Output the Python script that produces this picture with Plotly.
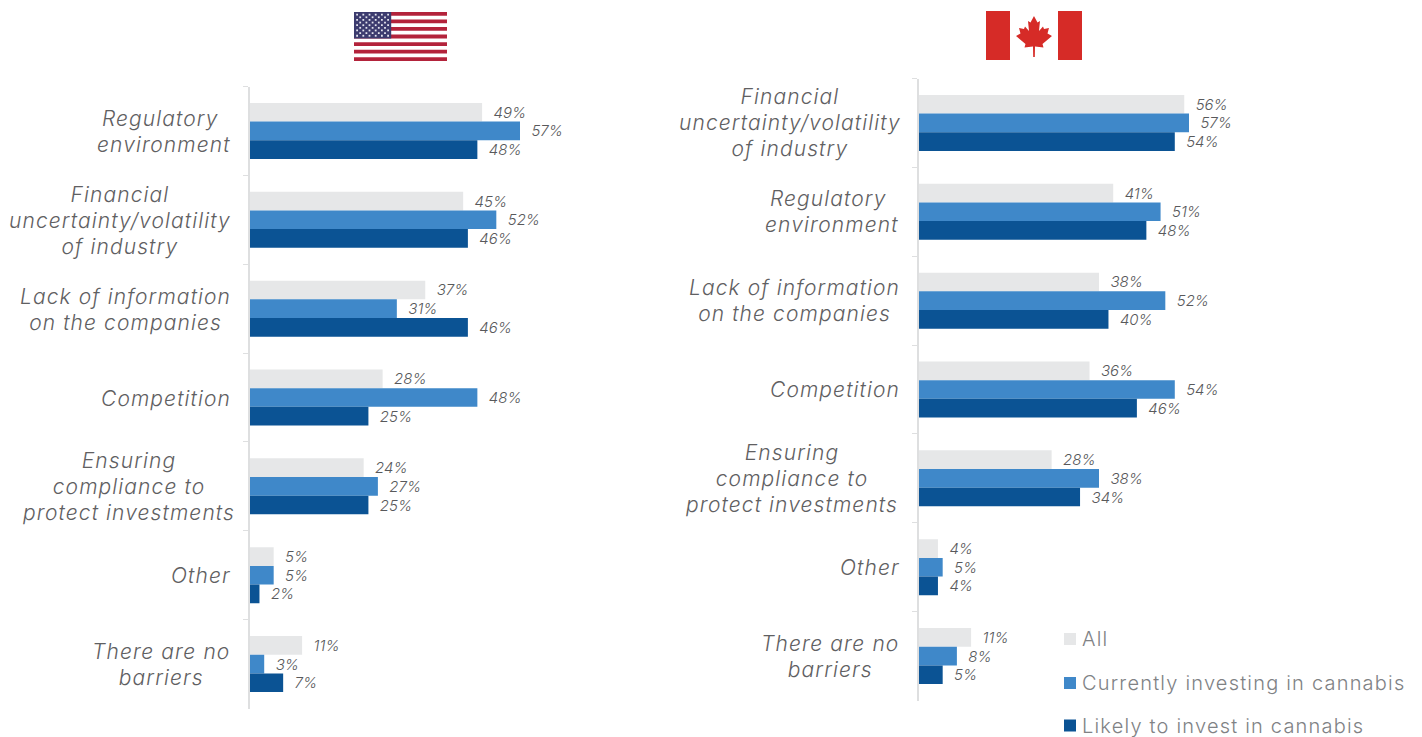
import plotly.graph_objects as go

W, H = 1422, 737

SERIES = ["All", "Currently investing in cannabis", "Likely to invest in cannabis"]
COLORS = ["#E6E7E8", "#3F88C9", "#0B5394"]

US_LABELS = ["Regulatory <br>environment", "Financial<br>uncertainty/volatility<br>of industry",
             "Lack of information<br>on the companies", "Competition",
             "Ensuring<br>compliance to<br>protect investments", "Other", "There are no<br>barriers"]
US_ALL = [49, 45, 37, 28, 24, 5, 11]
US_CURRENT = [57, 52, 31, 48, 27, 5, 3]
US_LIKELY = [48, 46, 46, 25, 25, 2, 7]

CA_LABELS = ["Financial<br>uncertainty/volatility<br>of industry", "Regulatory <br>environment",
             "Lack of information<br>on the companies", "Competition",
             "Ensuring<br>compliance to<br>protect investments", "Other", "There are no<br>barriers"]
CA_ALL = [56, 41, 38, 36, 28, 4, 11]
CA_CURRENT = [57, 51, 52, 54, 38, 5, 8]
CA_LIKELY = [54, 48, 40, 46, 34, 4, 5]

FONT = "Inter"
LABEL_GREY = "#5F6062"
VALUE_GREY = "#58595B"
LEGEND_GREY = "#808285"
AXIS_GREY = "#DEDFE0"
PX_PER_PCT = 270 / 57


def px(x):
    return x / W


def py(y):
    return 1 - y / H


def spaced(text, size, spacing):
    # Wider tracking per line; the annotation's own font size keeps the line pitch at 26px.
    style = f"font-size:{size}px;letter-spacing:{spacing}px"
    return "<br>".join(f'<span style="{style}">{line}</span>' for line in text.split("<br>"))


def rect(x0, y0, x1, y1, color):
    return dict(type="rect", xref="paper", yref="paper", x0=px(x0), x1=px(x1), y0=py(y0), y1=py(y1),
                fillcolor=color, line_width=0, layer="above")


def poly(points, color):
    d = "M" + " L".join(f"{px(x):.5f},{py(y):.5f}" for x, y in points) + " Z"
    return dict(type="path", xref="paper", yref="paper", path=d, fillcolor=color, line_width=0, layer="above")


def us_flag(x0, y0, x1, y1):
    out = [rect(x0, y0, x1, y1, "#FFFFFF")]
    sh = (y1 - y0) / 13
    for i in range(0, 13, 2):
        out.append(rect(x0, y0 + i * sh, x1, y0 + (i + 1) * sh, "#B3233B"))
    cw, ch = (x1 - x0) * 0.4, sh * 7
    out.append(rect(x0, y0, x0 + cw, y0 + ch, "#3C3B6E"))
    for r in range(9):
        count = 6 if r % 2 == 0 else 5
        for c in range(count):
            sx = x0 + cw * (c * 2 + (1 if r % 2 == 0 else 2)) / 12
            sy = y0 + ch * (r + 1) / 10
            out.append(rect(sx - 0.9, sy - 0.9, sx + 0.9, sy + 0.9, "#E4E5EE"))
    return out


def ca_flag(x0, y0, x1, y1):
    w = x1 - x0
    cx = (x0 + x1) / 2
    half = [(0, 16), (3.5, 22.5), (6, 21), (5, 31), (9, 26.5), (10, 29), (15, 28), (13.5, 33.5),
            (18, 36), (8.5, 44), (9.5, 47.5), (1, 46.5), (0.8, 57)]
    pts = [(cx + dx, y) for dx, y in half] + [(cx - dx, y) for dx, y in reversed(half)]
    return [rect(x0, y0, x0 + w / 4, y1, "#D62B27"), rect(x1 - w / 4, y0, x1, y1, "#D62B27"), poly(pts, "#D62B27")]


fig = go.Figure()


def panel(suffix, left, top, bottom, labels, values, shifts, yshift):
    width = 60 * PX_PER_PCT
    for name, color, vals in zip(SERIES, COLORS, values):
        fig.add_trace(go.Bar(
            name=name, x=vals, y=labels, orientation="h", marker=dict(color=color, line_width=0),
            xaxis="x" + suffix, yaxis="y" + suffix, showlegend=False, cliponaxis=False,
            texttemplate="\u00a0\u00a0%{x}%", textposition="outside", constraintext="none",
            textfont=dict(family=FONT, size=15, color=VALUE_GREY, style="italic", weight=300),
            hoverinfo="x+y+name"))
    fig.update_layout({
        "xaxis" + suffix: dict(domain=[px(left), px(left + width)], range=[0, 60], visible=False,
                               anchor="y" + suffix),
        "yaxis" + suffix: dict(domain=[py(bottom), py(top)], type="category", categoryorder="array",
                               categoryarray=labels, range=[len(labels) - 0.5, -0.5], anchor="x" + suffix,
                               showticklabels=False, showgrid=False, zeroline=False, showline=True,
                               linecolor=AXIS_GREY, linewidth=2, ticks="outside", tickson="boundaries",
                               ticklen=5, tickcolor=AXIS_GREY, tickwidth=1),
    })
    for label, shift in zip(labels, shifts):
        fig.add_annotation(
            x=0, y=label, xref="x" + suffix, yref="y" + suffix, text=spaced(label, 21, 1.1), showarrow=False,
            xanchor="right", xshift=shift, yshift=yshift, align="center", borderpad=0,
            font=dict(family=FONT, size=20, color=LABEL_GREY, style="italic", weight=300))


panel("", 250, 86.5, 708.5, US_LABELS, [US_ALL, US_CURRENT, US_LIKELY], [-18, -18, -18, -18, -14, -18, -19], -0.5)
panel("2", 919, 78.5, 700.5, CA_LABELS, [CA_ALL, CA_CURRENT, CA_LIKELY], [-17, -19, -18, -18, -20, -18, -19], 0)

shapes = us_flag(354, 12, 447, 61) + ca_flag(986, 11, 1082, 60)
for name, color, y in zip(SERIES, COLORS, [639, 683, 725.5]):
    shapes.append(rect(1064, y - 6, 1076, y + 6, color))
    fig.add_annotation(x=px(1081), y=py(y), xref="paper", yref="paper", text=spaced(name, 20, 1.2), showarrow=False,
                       xanchor="left", yanchor="middle", borderpad=0,
                       font=dict(family=FONT, size=20, color=LEGEND_GREY, weight=300))

fig.update_layout(width=W, height=H, margin=dict(l=0, r=0, t=0, b=0), paper_bgcolor="#FFFFFF",
                  plot_bgcolor="#FFFFFF", barmode="group", bargap=0.37, bargroupgap=0, shapes=shapes,
                  font=dict(family=FONT))

fig.write_html("out.html", config=dict(displayModeBar=False))
